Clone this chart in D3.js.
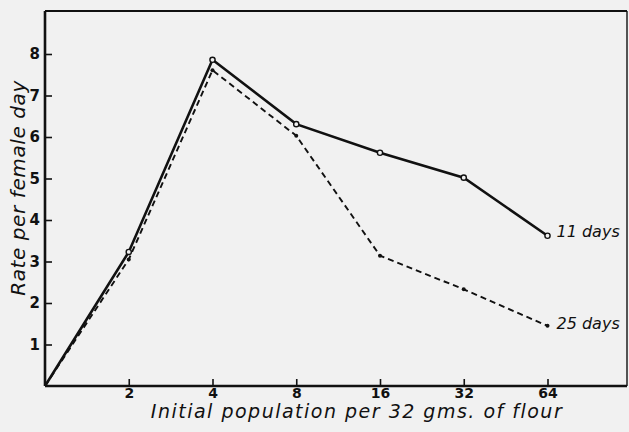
<!DOCTYPE html>
<html>
<head>
<meta charset="utf-8">
<script src="https://cdn.jsdelivr.net/npm/d3@7"></script>
<style>
  html, body { margin: 0; padding: 0; background: #f1f1f1; }
  svg { display: block; }
  text { fill: #111; }
</style>
</head>
<body>
<svg id="chart" width="629" height="432"></svg>
<script>
const populations = ["0", "2", "4", "8", "16", "32", "64"];
const days11 = [0, 3.23, 7.86, 6.31, 5.62, 5.02, 3.62];
const days25 = [0, 3.05, 7.61, 6.03, 3.14, 2.33, 1.45];
const yTicks = [1, 2, 3, 4, 5, 6, 7, 8];
const seriesLabels = ["11 days", "25 days"];
const xTitle = "Initial population per 32 gms. of flour";
const yTitle = "Rate per female day";

(function () {
const svg = d3.select("#chart");
const mLeft = 45, mRight = 627, mTop = 11, mBottom = 386;

const x = d3.scalePoint().domain(populations).range([mLeft, 547.5]).padding(0);
const y = d3.scaleLinear().domain([0, 8]).range([mBottom, 54]);

svg.append("rect").attr("width", 629).attr("height", 432).attr("fill", "#f1f1f1");

// frame
svg.append("line").attr("x1", mLeft).attr("x2", mRight).attr("y1", mTop).attr("y2", mTop)
  .attr("stroke", "#111").attr("stroke-width", 1.8);
svg.append("line").attr("x1", mRight).attr("x2", mRight).attr("y1", mTop).attr("y2", mBottom)
  .attr("stroke", "#111").attr("stroke-width", 1.4);

// x axis
const xAxis = d3.axisBottom(x).tickValues(populations.slice(1)).tickSize(-7).tickPadding(2);
const gx = svg.append("g").attr("transform", `translate(0,${mBottom})`).call(xAxis);
gx.select(".domain").attr("d", `M${mLeft},0H${mRight}`).attr("stroke", "#111").attr("stroke-width", 2.4);
gx.selectAll(".tick line").attr("stroke", "#111").attr("stroke-width", 1.6);
gx.selectAll(".tick text").attr("font-family", "DejaVu Sans").attr("font-weight", "bold")
  .attr("font-size", 14).attr("fill", "#111");

// y axis
const yAxis = d3.axisLeft(y).tickValues(yTicks).tickSize(-7).tickPadding(12);
const gy = svg.append("g").attr("transform", `translate(${mLeft},0)`).call(yAxis);
gy.select(".domain").attr("d", `M0,${mTop}V${mBottom}`).attr("stroke", "#111").attr("stroke-width", 2.6);
gy.selectAll(".tick line").attr("stroke", "#111").attr("stroke-width", 1.6);
gy.selectAll(".tick text").attr("font-family", "DejaVu Sans").attr("font-weight", "bold")
  .attr("font-size", 15).attr("fill", "#111").attr("x", -5);

// lines
const line = d3.line().x((d, i) => x(populations[i])).y(d => y(d));
svg.append("path").datum(days25).attr("d", line).attr("fill", "none")
  .attr("stroke", "#111").attr("stroke-width", 1.9).attr("stroke-dasharray", "6,4");
svg.append("path").datum(days11).attr("d", line).attr("fill", "none")
  .attr("stroke", "#111").attr("stroke-width", 2.6);

// markers
svg.selectAll("circle.d25").data(days25.slice(1)).enter().append("circle")
  .attr("class", "d25")
  .attr("cx", (d, i) => x(populations[i + 1])).attr("cy", d => y(d)).attr("r", 2)
  .attr("fill", "#111");
svg.selectAll("circle.d11").data(days11.slice(1)).enter().append("circle")
  .attr("class", "d11")
  .attr("cx", (d, i) => x(populations[i + 1])).attr("cy", d => y(d)).attr("r", 2.6)
  .attr("fill", "#f1f1f1").attr("stroke", "#111").attr("stroke-width", 1.4);

// series labels
const last = populations.length - 1;
svg.append("text").attr("x", x(populations[last]) + 9).attr("y", y(days11[last]) + 1)
  .attr("font-family", "DejaVu Sans").attr("font-style", "italic").attr("font-size", 16)
  .text(seriesLabels[0]);
svg.append("text").attr("x", x(populations[last]) + 9).attr("y", y(days25[last]) + 3)
  .attr("font-family", "DejaVu Sans").attr("font-style", "italic").attr("font-size", 16)
  .text(seriesLabels[1]);

// axis titles
svg.append("text").attr("x", 357).attr("y", 418).attr("text-anchor", "middle")
  .attr("font-family", "DejaVu Sans").attr("font-style", "italic").attr("font-size", 19)
  .attr("letter-spacing", 1.5).text(xTitle);
svg.append("text").attr("transform", "translate(25,188) rotate(-90)").attr("text-anchor", "middle")
  .attr("font-family", "DejaVu Sans").attr("font-style", "italic").attr("font-size", 20)
  .attr("letter-spacing", 0.6).text(yTitle);
})();
</script>
</body>
</html>
